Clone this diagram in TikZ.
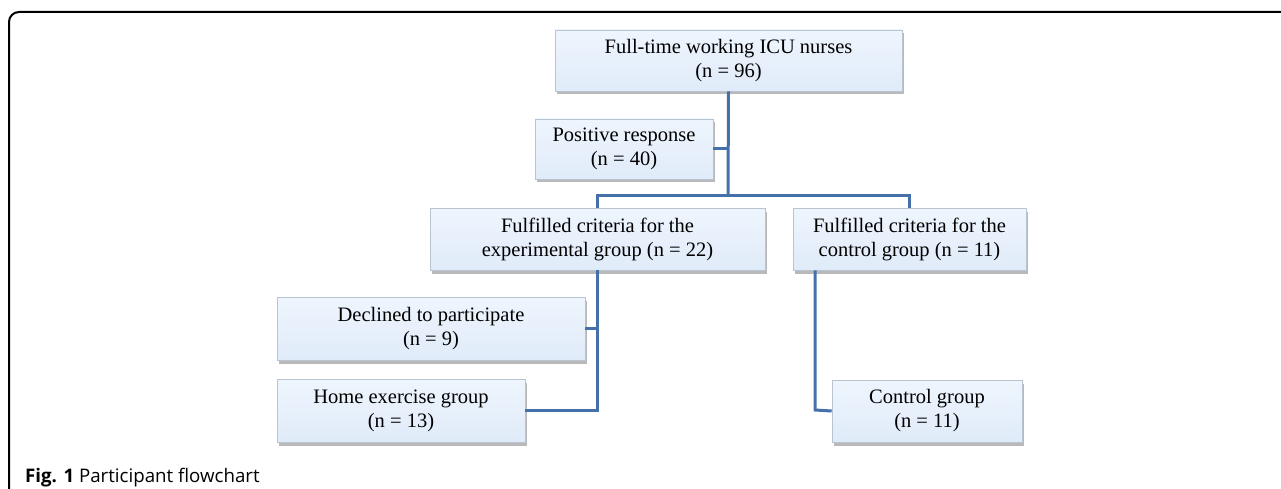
\documentclass[tikz,border=0pt]{standalone}
\usepackage{fontspec}
\setmainfont{Liberation Serif}
\newfontfamily\capfont{Open Sans}
\usetikzlibrary{shadows}

\definecolor{boxfill}{RGB}{224,235,249}
\definecolor{boxtop}{RGB}{238,245,253}
\definecolor{boxedge}{RGB}{185,196,210}
\definecolor{linkblue}{RGB}{70,112,170}

\begin{document}
\begin{tikzpicture}[x=1pt,y=-1pt,
    flowbox/.style={draw=boxedge, line width=0.6pt, top color=boxtop, bottom color=boxfill,
        align=center, inner sep=0pt, font=\fontsize{20.5}{24}\selectfont,
        drop shadow={shadow xshift=2pt, shadow yshift=-3.5pt, opacity=.5, fill=black!55}},
    link/.style={draw=linkblue, line width=3pt}]

    \useasboundingbox (0,0) rectangle (1281,489);

    % frame
    \draw[line width=2pt, rounded corners=10pt] (9,489) -- (9,12) -- (1281,12);

    \node[flowbox, minimum width=347pt, minimum height=61pt] (nurses) at (728.5,60.5) {Full-time working ICU nurses\\(n = 96)};
    \node[flowbox, minimum width=178pt, minimum height=60pt] (positive) at (624,149) {Positive response\\(n = 40)};
    \node[flowbox, minimum width=335pt, minimum height=62pt] (expcrit) at (597.5,239) {Fulfilled criteria for the\\experimental group (n = 22)};
    \node[flowbox, minimum width=233pt, minimum height=62pt] (ctrlcrit) at (909.5,239) {Fulfilled criteria for the\\control group (n = 11)};
    \node[flowbox, minimum width=308pt, minimum height=63pt] (declined) at (431,328.5) {Declined to participate\\(n = 9)};
    \node[flowbox, minimum width=248pt, minimum height=63pt] (homeex) at (401,410.5) {Home exercise group\\(n = 13)};
    \node[flowbox, minimum width=190pt, minimum height=62pt] (ctrlgrp) at (927,411) {Control group\\(n = 11)};

    \coordinate (split) at (728,195);
    \coordinate (ctrlturn) at (815,410);

    \draw[link] (nurses.south) -- (split);
    \draw[link] (positive.east) -- (positive.east -| split);
    \draw[link] (expcrit.north) |- (split) -| (ctrlcrit.north);
    \draw[link] (expcrit.south) |- (homeex.east);
    \draw[link] (declined.east) -- (declined.east -| expcrit.south);
    \draw[link] (ctrlturn |- ctrlcrit.south) -- (ctrlturn) -- (ctrlgrp.west);

    \node[anchor=base west, inner sep=0pt, font=\capfont\fontsize{18.7}{22}\selectfont] (caption) at (25,482)
        {\textbf{Fig. 1} Participant flowchart};

\end{tikzpicture}
\end{document}
